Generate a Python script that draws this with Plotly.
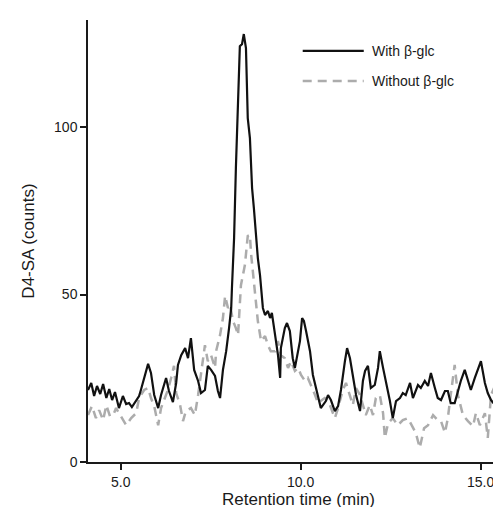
import plotly.graph_objects as go

# retention time (min) / counts
with_t = [4.09, 4.18, 4.26, 4.34, 4.43, 4.51, 4.60, 4.68, 4.76, 4.84, 4.95, 5.06, 5.15, 5.23, 5.31,
          5.43, 5.51, 5.56, 5.65, 5.76, 5.84, 5.93, 6.04, 6.12, 6.26, 6.34, 6.45, 6.54, 6.59, 6.68,
          6.79, 6.87, 6.95, 7.04, 7.15, 7.23, 7.34, 7.42, 7.51, 7.62, 7.70, 7.76, 7.84, 7.93, 8.01,
          8.07, 8.09, 8.15, 8.20, 8.26, 8.31, 8.37, 8.42, 8.48, 8.53, 8.59, 8.65, 8.70, 8.76, 8.81,
          8.87, 8.95, 9.01, 9.09, 9.15, 9.20, 9.29, 9.37, 9.43, 9.45, 9.56, 9.62, 9.70, 9.78, 9.84,
          9.90, 9.98, 10.04, 10.09, 10.15, 10.26, 10.34, 10.42, 10.56, 10.70, 10.76, 10.84, 10.95,
          11.04, 11.12, 11.23, 11.29, 11.37, 11.45, 11.54, 11.65, 11.73, 11.79, 11.87, 11.95, 12.06,
          12.15, 12.20, 12.29, 12.37, 12.48, 12.56, 12.65, 12.76, 12.84, 12.92, 13.04, 13.12, 13.26,
          13.34, 13.45, 13.54, 13.62, 13.73, 13.81, 13.90, 14.01, 14.09, 14.17, 14.28, 14.37, 14.45,
          14.56, 14.65, 14.73, 14.84, 14.93, 15.01, 15.12, 15.20, 15.29, 15.40, 15.48, 15.56, 15.67,
          15.76]
with_counts = [21.5, 23.6, 19.7, 22.7, 20.3, 23.3, 19.1, 21.8, 18.5, 20.9, 16.1, 19.7, 17.3, 17.6, 16.4,
               18.5, 19.7, 21.5, 25.1, 29.3, 26.6, 20.0, 16.1, 20.0, 25.1, 21.2, 17.9, 23.6, 29.0, 31.9,
               34.0, 31.0, 37.0, 27.5, 24.2, 20.6, 21.5, 28.7, 27.5, 25.7, 21.2, 19.1, 27.5, 33.1, 40.0,
               46.0, 51.9, 66.9, 87.8, 108.7, 124.2, 124.8, 127.8, 123.6, 102.7, 96.7, 81.8, 75.8, 66.9, 60.9,
               55.8, 46.0, 43.9, 45.1, 43.0, 44.5, 37.9, 31.9, 25.1, 34.0, 40.0, 41.5, 39.1, 31.0, 28.1,
               31.9, 36.1, 43.0, 42.1, 39.1, 33.1, 26.0, 22.1, 16.1, 18.2, 20.0, 18.5, 15.2,
               16.7, 21.5, 30.1, 34.0, 31.0, 26.0, 20.0, 15.2, 24.2, 27.2, 28.7, 22.1, 23.0,
               28.1, 33.1, 28.1, 24.2, 18.2, 13.1, 18.2, 19.1, 20.6, 20.0, 23.6, 19.1, 23.0,
               22.1, 24.2, 22.7, 26.6, 22.1, 19.1, 18.5, 21.2, 21.2, 17.6, 17.6, 21.2, 24.2,
               27.5, 24.2, 21.5, 25.1, 27.5, 30.1, 23.6, 20.6, 18.5, 17.0, 13.7, 14.0, 11.6,
               15.2]

without_t = [4.09, 4.20, 4.31, 4.40, 4.51, 4.60, 4.70, 4.79, 4.87, 4.95, 5.06, 5.15, 5.29, 5.43, 5.51,
             5.65, 5.76, 5.84, 5.93, 6.04, 6.12, 6.20, 6.31, 6.40, 6.48, 6.54, 6.65, 6.73, 6.81, 6.95,
             7.06, 7.15, 7.23, 7.34, 7.42, 7.51, 7.62, 7.65, 7.76, 7.84, 7.90, 7.98, 8.04, 8.12, 8.20,
             8.26, 8.34, 8.45, 8.53, 8.59, 8.62, 8.68, 8.76, 8.81, 8.90, 9.01, 9.09, 9.17, 9.29, 9.37,
             9.45, 9.56, 9.65, 9.73, 9.84, 9.93, 10.01, 10.12, 10.20, 10.29, 10.40, 10.48, 10.56, 10.67,
             10.76, 10.84, 10.95, 11.04, 11.17, 11.26, 11.37, 11.45, 11.54, 11.65, 11.73, 11.81, 11.92,
             12.01, 12.09, 12.20, 12.29, 12.34, 12.43, 12.56, 12.70, 12.84, 12.98, 13.12, 13.20, 13.31,
             13.43, 13.54, 13.68, 13.81, 13.90, 14.01, 14.09, 14.17, 14.28, 14.37, 14.51, 14.65, 14.79,
             14.87, 14.98, 15.12, 15.20, 15.29, 15.40, 15.48, 15.62, 15.67, 15.76]
without_counts = [14.0, 16.7, 13.1, 15.5, 12.5, 17.0, 13.7, 14.0, 16.1, 14.6, 12.5, 11.0, 13.1, 14.6, 19.1,
                  21.5, 22.1, 19.1, 16.7, 11.0, 16.1, 18.2, 21.5, 25.1, 28.7, 20.6, 17.0, 12.2, 15.2, 16.1,
                  14.0, 20.0, 26.0, 34.9, 30.1, 31.9, 28.1, 33.1, 37.9, 43.0, 49.6, 46.0, 46.9, 42.1, 40.0,
                  37.9, 52.8, 58.8, 67.5, 67.8, 62.4, 55.8, 49.0, 42.1, 36.1, 37.6, 34.9, 33.1, 33.1, 36.1,
                  31.9, 31.0, 28.1, 30.1, 27.2, 28.1, 26.0, 24.2, 25.1, 23.0, 20.0, 17.6, 18.2, 19.1,
                  18.5, 16.1, 13.1, 16.1, 21.5, 23.6, 20.0, 17.0, 22.1, 20.0, 17.0, 14.0, 17.0,
                  14.0, 19.1, 20.0, 14.6, 7.2, 11.6, 13.1, 11.0, 12.5, 13.1, 10.1, 8.7, 4.2,
                  10.1, 11.0, 14.0, 12.5, 12.2, 8.7, 13.1, 20.0, 29.0, 20.0, 14.0, 12.2, 10.7,
                  14.6, 11.0, 14.6, 7.2, 20.0, 22.7, 18.2, 12.2, 8.7, 10.1]

x_ticks = [5, 10, 15]
y_ticks = [0, 50, 100]
names = ["With β-glc", "Without β-glc"]

font = "Liberation Sans, Arial, sans-serif"
grey_dash = "9px,6px"

fig = go.Figure()
fig.add_trace(go.Scatter(x=without_t, y=without_counts, mode="lines", name=names[1],
                         line=dict(color="#acacac", width=2.5, dash=grey_dash)))
fig.add_trace(go.Scatter(x=with_t, y=with_counts, mode="lines", name=names[0],
                         line=dict(color="#111111", width=2.2)))

# hand-drawn legend, like the original figure
fig.add_shape(type="line", xref="paper", yref="paper", x0=0.51, x1=0.655, y0=0.93, y1=0.93,
              line=dict(color="#111111", width=2.2))
fig.add_shape(type="line", xref="paper", yref="paper", x0=0.51, x1=0.655, y0=0.862, y1=0.862,
              line=dict(color="#acacac", width=2.5, dash=grey_dash))
fig.add_annotation(xref="paper", yref="paper", x=0.67, y=0.93, text=names[0], showarrow=False,
                   xanchor="left", yanchor="middle", font=dict(size=14, color="#1a1a1a"))
fig.add_annotation(xref="paper", yref="paper", x=0.67, y=0.862, text=names[1], showarrow=False,
                   xanchor="left", yanchor="middle", font=dict(size=14, color="#1a1a1a"))

fig.update_layout(
    width=501, height=507,
    margin=dict(l=80, r=0, t=12, b=53),
    plot_bgcolor="white", paper_bgcolor="white",
    showlegend=False,
    font=dict(family=font, size=14, color="#1a1a1a"),
    xaxis=dict(range=[4.09, 15.79], tickvals=x_ticks, tickformat=".1f", showgrid=False, zeroline=False,
               showline=True, linecolor="#1a1a1a", linewidth=1.5, ticks="outside", ticklen=6,
               tickcolor="#1a1a1a", tickwidth=1.5,
               title=dict(text="Retention time (min)", standoff=4)),
    yaxis=dict(range=[0, 132], tickvals=y_ticks, showgrid=False, zeroline=False,
               showline=True, linecolor="#1a1a1a", linewidth=1.5, ticks="outside", ticklen=6,
               tickcolor="#1a1a1a", tickwidth=1.5,
               title=dict(text="D4-SA (counts)", standoff=15)),
)

fig.write_html("out.html")
